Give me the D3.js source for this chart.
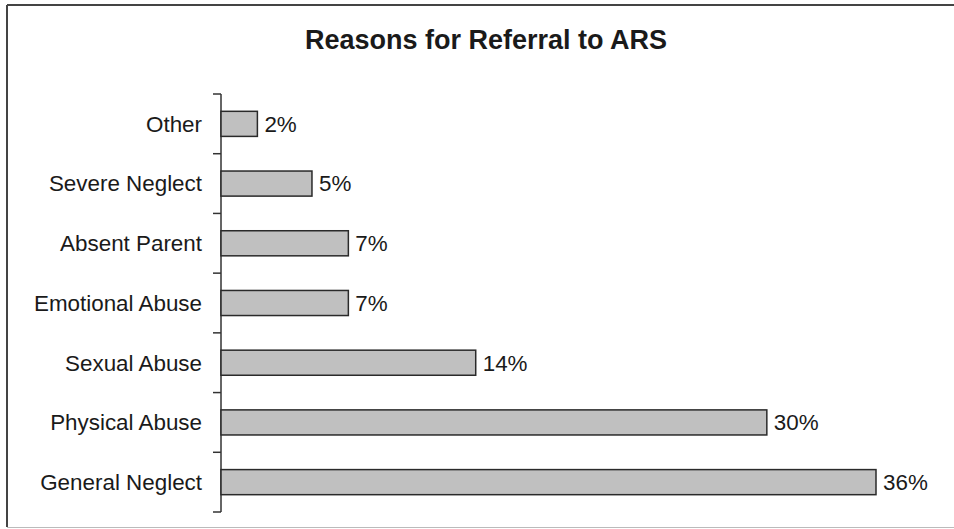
<!DOCTYPE html>
<html>
<head>
<meta charset="utf-8">
<script src="https://cdn.jsdelivr.net/npm/d3@7"></script>
<style>
  body { margin: 0; background: #fff; }
  text { font-family: "Liberation Sans", Arial, sans-serif; fill: #1a1a1a; }
</style>
</head>
<body>
<script>
// data, top to bottom as in the chart
const categories = ["Other", "Severe Neglect", "Absent Parent", "Emotional Abuse", "Sexual Abuse", "Physical Abuse", "General Neglect"];
const percents = [2, 5, 7, 7, 14, 30, 36];
const chartTitle = "Reasons for Referral to ARS";

const W = 954, H = 529;

const svg = d3.select("body").append("svg")
    .attr("width", W).attr("height", H);

// frame (only top, left and a faint bottom edge show in the scan)
svg.append("line").attr("x1", 7).attr("x2", W).attr("y1", 5).attr("y2", 5)
    .attr("stroke", "#444").attr("stroke-width", 2);
svg.append("line").attr("x1", 7).attr("x2", 7).attr("y1", 5).attr("y2", 527)
    .attr("stroke", "#444").attr("stroke-width", 2);
svg.append("line").attr("x1", 7).attr("x2", W).attr("y1", 527.5).attr("y2", 527.5)
    .attr("stroke", "#bbb").attr("stroke-width", 1);

//title
svg.append("text").attr("x", 486).attr("y", 49)
    .attr("text-anchor", "middle")
    .style("font-size", "27px").style("font-weight", "bold")
    .text(chartTitle);

const x = d3.scaleLinear().domain([0, 36]).range([221, 876]);
const y = d3.scaleBand().domain(categories).range([94, 512]).paddingInner(0.58).paddingOuter(0.29);

// axis with ticks between categories
const axisG = svg.append("g").attr("transform", "translate(221,0)");
axisG.append("line").attr("x1", 0).attr("x2", 0).attr("y1", 94).attr("y2", 512)
    .attr("stroke", "#333").attr("stroke-width", 1.5);
const tickYs = d3.range(categories.length + 1).map(i => 94 + i * (418 / categories.length));
axisG.selectAll(".tk").data(tickYs).enter().append("line")
    .attr("class", "tk")
    .attr("x1", -8).attr("x2", 0)
    .attr("y1", d => d).attr("y2", d => d)
    .attr("stroke", "#333").attr("stroke-width", 1.5);

// category labels
svg.selectAll(".cat").data(categories).enter().append("text")
    .attr("class", "cat")
    .attr("x", 202)
    .attr("y", d => y(d) + y.bandwidth() / 2)
    .attr("dy", "0.35em")
    .attr("text-anchor", "end")
    .style("font-size", "22.4px")
    .text(d => d);

// bars
svg.selectAll(".bar").data(percents).enter().append("rect")
    .attr("class", "bar")
    .attr("x", x(0))
    .attr("y", (d, i) => y(categories[i]))
    .attr("width", d => x(d) - x(0))
    .attr("height", y.bandwidth())
    .attr("fill", "#c0c0c0")
    .attr("stroke", "#2a2a2a")
    .attr("stroke-width", 1.5);

// value labels
svg.selectAll(".val").data(percents).enter().append("text")
    .attr("class", "val")
    .attr("x", d => x(d) + 7)
    .attr("y", (d, i) => y(categories[i]) + y.bandwidth() / 2)
    .attr("dy", "0.35em")
    .style("font-size", "22.4px")
    .text(d => d + "%");
</script>
</body>
</html>
